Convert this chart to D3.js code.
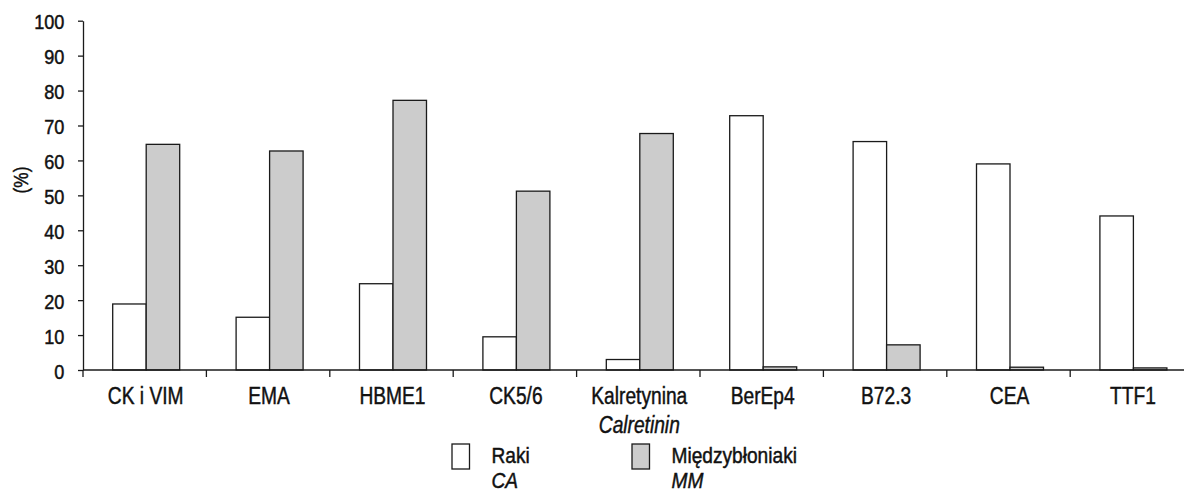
<!DOCTYPE html>
<html><head><meta charset="utf-8">
<script src="https://cdn.jsdelivr.net/npm/d3@7"></script>
<style>
html,body{margin:0;padding:0;background:#fff;}
svg{display:block;}
text{font-family:"Liberation Sans","Arial",sans-serif;fill:#111;stroke:#111;stroke-width:0.45px;}
</style></head>
<body>
<svg id="chart" width="1184" height="493"></svg>
<script>
const categories = ["CK i VIM","EMA","HBME1","CK5/6","Kalretynina","BerEp4","B72.3","CEA","TTF1"];
const categorySub = ["","","","","Calretinin","","","",""];
const seriesNames = ["Raki","Międzybłoniaki"];
const seriesSub = ["CA","MM"];
const seriesColors = ["#ffffff","#cccccc"];
const rakiValues = [18.9,15.1,24.7,9.5,3.0,72.8,65.4,59.0,44.1];
const mezoValues = [64.6,62.7,77.2,51.2,67.7,0.9,7.2,0.8,0.6];
const yTicks = [0,10,20,30,40,50,60,70,80,90,100];
const yLabel = "(%)";

const svg = d3.select("#chart");
const left = 83, step = 123.4;
const x0 = d3.scaleBand().domain(categories).range([left, left + step*categories.length]).padding(0);
const x1 = d3.scaleBand().domain(seriesNames).range([0, x0.bandwidth()]).paddingInner(0).paddingOuter(0.842);
const y = d3.scaleLinear().domain([0,100]).range([370, 20.7]);
const values = [rakiValues, mezoValues];

function narrowText(parent, x, yy, txt, size, italic, anchor, sx) {
  return parent.append("text")
    .attr("transform", `translate(${x},${yy}) scale(${sx || 0.81},1)`)
    .attr("text-anchor", anchor || "start")
    .style("font-size", size + "px")
    .style("font-style", italic ? "italic" : "normal")
    .text(txt);
}

// bars
const g = svg.append("g");
categories.forEach((c,i)=>{
  seriesNames.forEach((s,j)=>{
    g.append("rect")
      .attr("x", x0(c) + x1(s) + 1.5)
      .attr("y", y(values[j][i]))
      .attr("width", x1.bandwidth())
      .attr("height", y(0) - y(values[j][i]))
      .attr("fill", seriesColors[j])
      .attr("stroke", "#1a1a1a")
      .attr("stroke-width", 1.3);
  });
});

// y axis
const yAxis = d3.axisLeft(y).tickValues(yTicks).tickSize(5).tickPadding(15).tickSizeOuter(0);
const ya = svg.append("g").attr("transform", `translate(${left},0)`).call(yAxis);
ya.selectAll("text").style("font-size","19.5px").attr("dy","0.42em")
  .attr("fill","#111").attr("transform","scale(0.93,1)");
ya.selectAll("line,path").attr("stroke","#1a1a1a").attr("stroke-width",1.3);

// x axis line and boundary ticks
svg.append("line").attr("x1", left).attr("x2", 1184).attr("y1", y(0)).attr("y2", y(0))
  .attr("stroke","#1a1a1a").attr("stroke-width",1.3);
const bounds = categories.map(c => x0(c)).concat([x0.range()[1]]);
svg.append("g").selectAll("line").data(bounds).join("line")
  .attr("x1", d=>d).attr("x2", d=>d).attr("y1", y(0)).attr("y2", y(0)+7)
  .attr("stroke","#1a1a1a").attr("stroke-width",1.3);

// x labels
const xl = svg.append("g");
categories.forEach((c,i)=>{
  const cx = x0(c) + x0.bandwidth()/2 + 1;
  narrowText(xl, cx, 404, c, 23.7, false, "middle");
  if (categorySub[i]) narrowText(xl, cx, 432.5, categorySub[i], 23.7, true, "middle");
});

// y label
svg.append("text").attr("transform","translate(28,180) rotate(-90) scale(0.82,1)")
  .attr("text-anchor","middle").style("font-size","21px").text(yLabel);

// legend
const legX = [452, 632];
seriesNames.forEach((s,j)=>{
  const lg = svg.append("g").attr("transform", `translate(${legX[j]},444)`);
  lg.append("rect").attr("x",0).attr("y",0).attr("width",17.5).attr("height",25)
    .attr("fill", seriesColors[j]).attr("stroke","#1a1a1a").attr("stroke-width",1.3);
  narrowText(lg, 39.5, 19.3, s, 21.5, false, "start", 0.89);
  narrowText(lg, 39.5, 44.2, seriesSub[j], 21.5, true, "start", 0.89);
});
</script>
</body></html>
